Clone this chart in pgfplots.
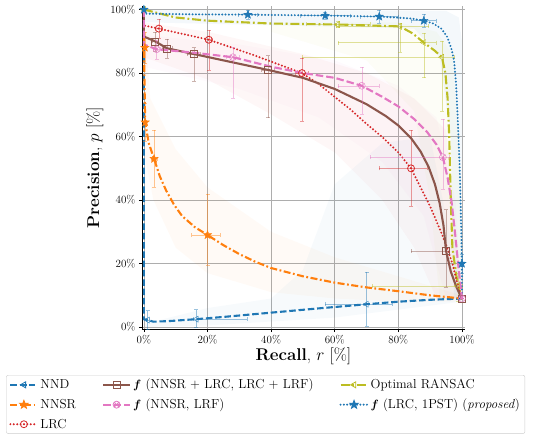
\documentclass[border=0pt]{standalone}
\usepackage{pgfplots}
\pgfplotsset{compat=1.18}
\usepackage{bm}
\usetikzlibrary{plotmarks}
\definecolor{cB}{HTML}{1F77B4}
\definecolor{cO}{HTML}{FF7F0E}
\definecolor{cR}{HTML}{D62728}
\definecolor{cBr}{HTML}{8C564B}
\definecolor{cP}{HTML}{E377C2}
\definecolor{cY}{HTML}{BCBD22}
\pgfdeclareplotmark{fstar}{%
 \pgfpathmoveto{\pgfpointpolar{90}{1.25\pgfplotmarksize}}%
 \pgfpathlineto{\pgfpointpolar{126}{0.52\pgfplotmarksize}}%
 \pgfpathlineto{\pgfpointpolar{162}{1.25\pgfplotmarksize}}%
 \pgfpathlineto{\pgfpointpolar{198}{0.52\pgfplotmarksize}}%
 \pgfpathlineto{\pgfpointpolar{234}{1.25\pgfplotmarksize}}%
 \pgfpathlineto{\pgfpointpolar{270}{0.52\pgfplotmarksize}}%
 \pgfpathlineto{\pgfpointpolar{306}{1.25\pgfplotmarksize}}%
 \pgfpathlineto{\pgfpointpolar{342}{0.52\pgfplotmarksize}}%
 \pgfpathlineto{\pgfpointpolar{18}{1.25\pgfplotmarksize}}%
 \pgfpathlineto{\pgfpointpolar{54}{0.52\pgfplotmarksize}}%
 \pgfpathclose\pgfusepathqfillstroke}
\pgfdeclareplotmark{odot}{%
 \pgfpathcircle{\pgfpointorigin}{\pgfplotmarksize}\pgfusepathqstroke
 \pgfpathcircle{\pgfpointorigin}{0.25\pgfplotmarksize}\pgfusepathqfill}
\pgfplotsset{
 ebar/.style={only marks, forget plot, mark options={solid, line width=0.8pt},
   error bars/x dir=both, error bars/y dir=both, error bars/x explicit, error bars/y explicit,
   error bars/error bar style={line width=0.5pt, opacity=0.45, solid},
   error bars/error mark options={rotate=90, mark size=2pt, opacity=0.45}},
 band/.style={forget plot, draw=none, fill opacity=0.035},
 sNND/.style={color=cB, line width=2.1pt, dash pattern=on 6.5pt off 2.8pt},
 sNNSR/.style={color=cO, line width=2.1pt, dash pattern=on 7pt off 2.5pt on 1.8pt off 2.5pt},
 sLRC/.style={color=cR, line width=2.2pt, line cap=round, dash pattern=on 0pt off 3.4pt},
 sBr/.style={color=cBr, line width=2.1pt, solid},
 sP/.style={color=cP, line width=2.1pt, dash pattern=on 7.5pt off 3pt},
 sY/.style={color=cY, line width=2.1pt, dash pattern=on 9pt off 2.8pt on 1.8pt off 2.8pt},
 sBd/.style={color=cB, line width=2.2pt, line cap=round, dash pattern=on 0pt off 3.3pt},
}
\begin{document}
\begin{tikzpicture}[x=1pt,y=1pt]
\useasboundingbox (0,0) rectangle (546,439);
\begin{axis}[
 at={(142pt,110pt)}, anchor=south west,
 width=322.8pt, height=322.6pt, scale only axis,
 xmin=-0.6, xmax=100.9, ymin=-0.6, ymax=101,
 axis x line*=bottom, axis y line*=left,
 axis line style={black, line width=0.8pt, -},
 xtick={0,20,...,100}, ytick={0,20,...,100},
 xticklabels={0\%,20\%,40\%,60\%,80\%,100\%},
 yticklabels={0\%,20\%,40\%,60\%,80\%,100\%},
 tick align=outside, major tick length=3pt, tick style={black, line width=0.6pt},
 grid=major, grid style={color=black!32, line width=0.8pt},
 ticklabel style={font=\fontsize{11}{13}\selectfont},
 xlabel={\textbf{Recall}, $r$ [\%]},
 ylabel={\textbf{Precision}, $p$ [\%]},
 label style={font=\fontsize{17}{20}\selectfont},
 xlabel style={yshift=3pt},
 legend columns=3, legend cell align=left,
 legend image code/.code={\draw[mark repeat=2,mark phase=2,#1] plot coordinates {(0pt,0pt) (13.5pt,0pt) (27pt,0pt)};},
 legend style={at={(-0.421,-0.1426)}, anchor=north west, draw=black!20, rounded corners=2pt,
   font=\fontsize{13}{15}\selectfont, row sep=4.6pt, inner xsep=3pt, inner ysep=2pt,
   /tikz/every even column/.append style={column sep=24pt}},
 mark size=3.5pt,
]
% ---- bands ----
\addplot[band, fill=cB] coordinates {(0,1)(20,6)(40,9)(50,18)(60,45)(75,58)(90,60)(100,10)(100,8)(60,3)(20,0.5)(0,0)} -- cycle;
\addplot[band, fill=cO] coordinates {(0,100)(2,72)(10,56)(20,44)(40,30)(60,22)(80,16)(100,10)(100,8)(80,8)(60,9)(40,11)(20,17)(10,25)(3,40)(0,55)} -- cycle;
\addplot[band, fill=cR] coordinates {(0,96)(20,93)(50,86)(70,80)(85,72)(95,62)(100,9)(92,9)(85,25)(75,40)(60,55)(40,67)(20,78)(0,85)} -- cycle;
\addplot[band, fill=cP] coordinates {(0,92)(30,89)(60,84)(80,76)(92,66)(98,40)(100,9)(95,9)(88,35)(75,52)(55,66)(30,75)(0,82)} -- cycle;
\addplot[band, fill=cY] coordinates {(40,96)(80,96)(92,93)(97,86)(99,60)(100,9)(93,9)(90,40)(85,68)(70,84)(40,93)} -- cycle;
\addplot[band, fill=cB, fill opacity=0.05] coordinates {(0,100)(95,99.6)(99,97.5)(100,90)(100,9)(97.5,9)(96.5,60)(93,85)(85,94)(0,96)} -- cycle;
% ---- NND ----
\addplot[sNND, forget plot] coordinates {(0,100)(0,30)(0,2.5)(1.2,2.2)(3,1.7)(8,1.9)(16.5,2.5)(25,3.2)(35,4.1)(45,5)(55,5.9)(62,6.5)(70,7.2)(80,8)(90,8.6)(100,9)};
\addplot[ebar, color=cB, mark=triangle, mark options={rotate=90, fill=none}] coordinates {
 (1.2,2.2) +- (0.5,3)
 (16.5,2.5) += (16,3) -= (1,2.5)
 (70,7.2) += (8,10) -= (13,7)};
% ---- NNSR ----
\addplot[sNNSR, forget plot] coordinates {(0,100)(0,88)(0.4,64.5)(1.5,58)(3.2,53)(5,47.5)(7,43)(9.5,38.5)(12,35)(16,31.5)(20,29)(25,25.8)(30,23)(35,20.6)(40,18.6)(50,16)(60,14)(70,12.5)(80,11.3)(90,10)(100,9)};
\addplot[ebar, color=cO, mark=fstar, mark options={fill=cO}] coordinates {
 (0.3,88) +- (0.3,5)
 (0.4,64.5) +- (0.4,6)
 (3.2,53) +- (1,9)
 (20,29) += (4,13) -= (5,9.5)};
% ---- Optimal RANSAC ----
\addplot[sY, forget plot] coordinates {(0,100)(10,97.5)(20,96.5)(40,95.6)(61,95.3)(80.5,94.7)(84.5,92.5)(88,89.6)(91.5,87)(93.7,85)(94.8,80)(95.5,72)(96,60)(96.5,40)(97,25)(98.7,13)(100,9)};
\addplot[ebar, color=cY, mark=triangle, mark options={rotate=90, fill=none}] coordinates {
 (0,100) +- (0,0)
 (61,95.3) +- (10,1)
 (80.5,94.7) += (9,1) -= (20,8)
 (88,89.6) += (4,3) -= (27,11)
 (93.7,85) += (4,5) -= (44,17)
 (98.7,13) += (1.3,4) -= (27,5)};
% ---- f(LRC,1PST) ----
\addplot[sBd, forget plot] coordinates {(0,100)(0,98.7)(15,98.5)(33,98.4)(57,98.1)(74,97.8)(84,97.2)(88,96.5)(91,95.6)(93.5,94)(95.3,91.5)(96.6,88)(97.5,84)(98.2,76)(98.7,65)(99.3,50)(99.8,30)(100,20)(100,9)};
\addplot[ebar, color=cB, mark=fstar, mark options={fill=cB}] coordinates {
 (0,100) +- (0,0)
 (32.7,98.4) +- (3,1.5)
 (57,98.1) +- (8,1)
 (74,97.8) +- (6,2)
 (88,96.5) +- (4,2)
 (100,20) += (0,3) -= (1,3)};
% ---- LRC ----
\addplot[sLRC, forget plot] coordinates {(0,100)(0,95)(4.7,94)(20.4,90.5)(35,85.5)(49.7,80)(55,76.5)(60,72.5)(65,68.5)(70,64)(75,59.8)(80,55)(84,50)(87,44)(90,38)(93,31)(95,26)(97,20)(98.5,14)(100,9)};
\addplot[ebar, color=cR, mark=odot] coordinates {
 (4.7,94) +- (1,3)
 (20.4,90.5) += (1,3) -= (1,9.5)
 (49.7,80) += (2,4.6) -= (2,15)
 (84,50) += (5,12) -= (10,12)};
% ---- f(NNSR+LRC, LRC+LRF) ----
\addplot[sBr, forget plot] coordinates {(0,100)(0,91.5)(3.5,90)(7.3,87.8)(15.7,86)(25,84)(39,81)(50,78.5)(60,75)(70,70.2)(76,66.5)(80,63.5)(84,59.5)(87,55.3)(89.5,50.5)(91.5,45)(93,39)(94.2,32)(95,24)(96.5,17.5)(98.3,12.5)(100,9)};
\addplot[ebar, color=cBr, mark=square, mark options={fill=none}] coordinates {
 (3.5,90) +- (1,3)
 (7.3,87.8) +- (1.5,3)
 (15.7,86) += (2,2) -= (2,8.5)
 (39,81) += (2,4.5) -= (2,15)
 (95,24) += (1,13) -= (11,11.5)
 (100,9) +- (0,0)};
% ---- f(NNSR, LRF) ----
\addplot[sP, forget plot] coordinates {(0,100)(0,89)(4,87.5)(15,86.5)(28,85)(40,82)(50,80)(60,78.5)(68.5,76)(75,72.5)(80,69.5)(85,65.5)(89,61.5)(92,57.5)(94,53.5)(95.5,47)(96.8,39)(97.8,30)(98.8,20)(100,9)};
\addplot[ebar, color=cP, mark=otimes, mark options={fill=none}] coordinates {
 (4,87.5) +- (1,3)
 (28,85) += (2,3) -= (2,13)
 (68.5,76) += (5.5,6) -= (7.5,9)
 (94,53.5) += (2,12) -= (23,10)
 (100,9) +- (0,0)};
% ---- legend ----
\addlegendimage{sNND, mark=triangle, mark options={solid, rotate=90, fill=none, line width=0.8pt}}
\addlegendentry{NND}
\addlegendimage{sBr, mark=square, mark options={solid, fill=none, line width=0.8pt}}
\addlegendentry{$\bm{f}$\ (NNSR + LRC, LRC + LRF)}
\addlegendimage{sY, mark=triangle, mark options={solid, rotate=90, fill=none, line width=0.8pt}}
\addlegendentry{Optimal RANSAC}
\addlegendimage{sNNSR, mark=fstar, mark options={solid, fill=cO, line width=0.8pt}}
\addlegendentry{NNSR}
\addlegendimage{sP, mark=otimes, mark options={solid, fill=none, line width=0.8pt}}
\addlegendentry{$\bm{f}$\ (NNSR, LRF)}
\addlegendimage{sBd, mark=fstar, mark options={solid, fill=cB, line width=0.8pt}}
\addlegendentry{$\bm{f}$\ (LRC, 1PST) (\textit{proposed})}
\addlegendimage{sLRC, mark=odot, mark options={solid, line width=0.8pt}}
\addlegendentry{LRC}
\end{axis}
\end{tikzpicture}
\end{document}
